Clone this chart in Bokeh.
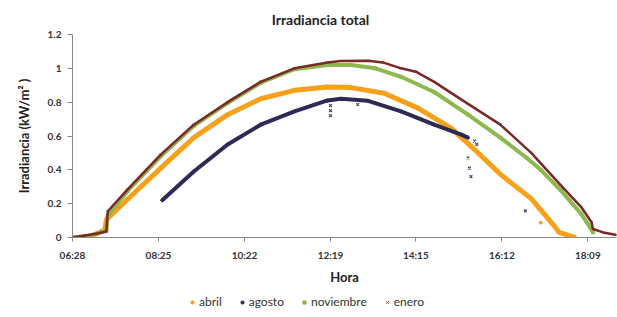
from bokeh.plotting import figure
from bokeh.layouts import column
from bokeh.models import Range1d, FixedTicker, Legend, LegendItem, Label
from bokeh.embed import file_html
from bokeh.resources import INLINE

# ---- data (time in minutes after midnight, irradiance kW/m2) ----
abril_t = [406, 420, 432, 434, 463, 508, 553, 599, 644, 690, 735, 767, 812, 858, 903, 935, 971, 1012, 1043, 1050, 1065, 1072]
abril_v = [0.0, 0.02, 0.045, 0.105, 0.226, 0.41, 0.59, 0.726, 0.82, 0.87, 0.89, 0.886, 0.853, 0.765, 0.647, 0.52, 0.37, 0.23, 0.07, 0.03, 0.01, 0.0]

agosto_t = [510, 553, 599, 644, 690, 735, 753, 790, 835, 880, 917, 926]
agosto_v = [0.22, 0.39, 0.55, 0.667, 0.745, 0.81, 0.82, 0.808, 0.745, 0.667, 0.608, 0.59]
agosto_out_t = [739, 739, 739, 776, 935, 938, 926, 928, 930, 1004]
agosto_out_v = [0.78, 0.75, 0.72, 0.786, 0.57, 0.55, 0.47, 0.41, 0.36, 0.157]

noviembre_t = [388, 410, 434, 436, 463, 508, 553, 599, 644, 690, 735, 767, 800, 835, 880, 926, 970, 1006, 1025, 1052, 1080, 1092, 1096]
noviembre_v = [0.0, 0.01, 0.04, 0.13, 0.275, 0.48, 0.66, 0.795, 0.915, 0.995, 1.02, 1.02, 1.0, 0.95, 0.86, 0.726, 0.59, 0.47, 0.40, 0.28, 0.14, 0.06, 0.03]

enero_t = [388, 405, 420, 434, 436, 463, 508, 553, 599, 644, 690, 735, 753, 790, 810, 835, 855, 880, 926, 970, 1012, 1052, 1080, 1094, 1096, 1110, 1128]
enero_v = [0.0, 0.012, 0.022, 0.035, 0.155, 0.285, 0.49, 0.667, 0.80, 0.92, 1.0, 1.035, 1.043, 1.045, 1.035, 1.0, 0.98, 0.92, 0.79, 0.667, 0.50, 0.31, 0.18, 0.09, 0.05, 0.03, 0.015]

abril_out_t = [1025]
abril_out_v = [0.088]

series_names = ["abril", "agosto", "noviembre", "enero"]
x_tick_values = [388, 505, 622, 739, 855, 972, 1089]
x_tick_labels = ["06:28", "08:25", "10:22", "12:19", "14:15", "16:12", "18:09"]
y_tick_values = [0, 0.2, 0.4, 0.6, 0.8, 1.0, 1.2]
y_tick_labels = ["0", "0.2", "0.4", "0.6", "0.8", "1", "1.2"]

C_ABRIL = "#F7A11A"
C_AGOSTO = "#2E2A56"
C_NOV = "#8DB84E"
C_ENERO = "#7A2828"
FONT = "Lato"
FRAME_L, FRAME_R = 72, 616


def strip(h):
    # the column aligns the frames, so the strip's frame spans page x 72..616
    f = figure(frame_width=FRAME_R - FRAME_L, frame_height=h, output_backend="svg",
               toolbar_location=None, x_range=Range1d(FRAME_L, FRAME_R), y_range=Range1d(0, h),
               min_border_left=FRAME_L, min_border_right=1, min_border_top=0, min_border_bottom=0,
               x_axis_type=None, y_axis_type=None)
    f.xgrid.visible = False
    f.ygrid.visible = False
    f.outline_line_color = None
    f.background_fill_color = "white"
    f.border_fill_color = "white"
    return f


# ---- title strip ----
tf = strip(30)
tf.add_layout(Label(x=320, y=11, text="Irradiancia total", text_align="center",
                    text_baseline="middle", text_font=FONT, text_font_size="14px",
                    text_font_style="bold", text_color="#222222"))

# ---- main plot ----
p = figure(frame_width=FRAME_R - FRAME_L, frame_height=203, output_backend="svg", toolbar_location=None,
           x_range=Range1d(388, 1128), y_range=Range1d(0, 1.2),
           min_border_left=FRAME_L, min_border_right=1, min_border_top=4, min_border_bottom=48)
p.xgrid.visible = False
p.ygrid.visible = False
p.outline_line_color = None
p.background_fill_color = "white"
p.border_fill_color = "white"

for ax in (p.xaxis[0], p.yaxis[0]):
    ax.axis_line_color = "#8a8a8a"
    ax.major_tick_line_color = "#8a8a8a"
    ax.minor_tick_line_color = None
    ax.major_tick_in = 0
    ax.major_label_text_font = FONT
    ax.major_label_text_font_size = "10px"
    ax.major_label_text_font_style = "bold"
    ax.major_label_text_color = "#333333"
    ax.axis_label_text_font = FONT
    ax.axis_label_text_font_size = "13px"
    ax.axis_label_text_font_style = "bold"
    ax.axis_label_text_color = "#222222"

p.xaxis.ticker = FixedTicker(ticks=x_tick_values)
p.xaxis.major_label_overrides = {v: l for v, l in zip(x_tick_values, x_tick_labels)}
p.xaxis.major_tick_out = 4
p.xaxis.major_label_standoff = 7
p.xaxis.axis_label = "Hora"
p.xaxis.axis_label_standoff = 5

p.yaxis.ticker = FixedTicker(ticks=y_tick_values)
p.yaxis.major_label_overrides = {v: l for v, l in zip(y_tick_values, y_tick_labels)}
p.yaxis.major_tick_out = 5
p.yaxis.major_label_standoff = 6
p.yaxis.axis_label = "Irradiancia (kW/m² )"
p.yaxis.axis_label_standoff = 13

# series (drawn in Excel series order)
p.line(abril_t, abril_v, line_color=C_ABRIL, line_width=5)
p.scatter(abril_t, abril_v, marker="circle", size=3, color=C_ABRIL)
p.scatter(abril_out_t, abril_out_v, marker="circle", size=3, color=C_ABRIL)

p.line(agosto_t, agosto_v, line_color=C_AGOSTO, line_width=4)
p.scatter(agosto_t, agosto_v, marker="circle", size=3, color=C_AGOSTO)
p.scatter(agosto_out_t, agosto_out_v, marker="x", size=4, color="#4a4870", line_width=1.2)

p.line(noviembre_t, noviembre_v, line_color=C_NOV, line_width=4)
p.scatter(noviembre_t, noviembre_v, marker="square", size=3, color=C_NOV)

p.line(enero_t, enero_v, line_color=C_ENERO, line_width=2.5)
p.scatter(enero_t, enero_v, marker="x", size=3, color=C_ENERO, line_width=1)

# ---- legend strip (hidden proxy renderers carry the legend glyph styles) ----
lf = strip(32)
lr = [
    lf.scatter(abril_t, abril_v, marker="circle", size=3, color=C_ABRIL, visible=False),
    lf.scatter(agosto_t, agosto_v, marker="circle", size=3, color=C_AGOSTO, visible=False),
    lf.scatter(noviembre_t, noviembre_v, marker="square", size=4, color=C_NOV, visible=False),
    lf.scatter(enero_t, enero_v, marker="x", size=4, color=C_ENERO, line_width=1, visible=False),
]
legend = Legend(items=[LegendItem(label=n, renderers=[r]) for n, r in zip(series_names, lr)],
                orientation="horizontal", location=(116, 10))
legend.label_text_font = FONT
legend.label_text_font_size = "12px"
legend.label_text_color = "#333333"
legend.label_height = 12
legend.border_line_color = None
legend.background_fill_alpha = 0
legend.padding = 0
legend.margin = 0
legend.spacing = 16
legend.glyph_width = 8
legend.glyph_height = 10
legend.label_standoff = 3
lf.add_layout(legend, "center")

layout = column(tf, p, lf, spacing=0)
open("out.html", "w").write(file_html(layout, INLINE))
